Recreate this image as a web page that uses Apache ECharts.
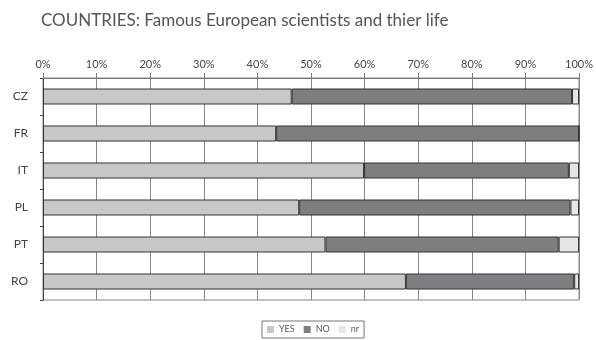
<!DOCTYPE html>
<html>
<head>
<meta charset="utf-8">
<script src="https://cdn.jsdelivr.net/npm/echarts@6/dist/echarts.min.js"></script>
<style>
  html, body { margin: 0; padding: 0; background: #fff; }
  #chart { width: 596px; height: 340px; }
</style>
</head>
<body>
<div id="chart"></div>
<script>
// Survey answers per country, in percent of respondents
const countries = ['CZ', 'FR', 'IT', 'PL', 'PT', 'RO'];
const yesValues = [46.4, 43.5, 59.9, 47.8, 52.7, 67.7];
const noValues  = [52.3, 56.5, 38.2, 50.6, 43.5, 31.4];
const nrValues  = [1.3, 0, 1.9, 1.6, 3.8, 0.9];
const seriesNames = ['YES', 'NO', 'nr'];
const seriesColors = ['#c8c8c8', '#7e7e80', '#e6e6e6'];

const FONT = 'Lato, "Open Sans", sans-serif';

const chart = echarts.init(document.getElementById('chart'), null, { renderer: 'canvas' });

function barSeries(name, values, color) {
  return {
    name: name,
    type: 'bar',
    stack: 'total',
    barWidth: 16,
    data: values,
    itemStyle: { color: color, borderColor: '#333', borderWidth: 1 },
    emphasis: { disabled: true }
  };
}

chart.setOption({
  animation: false,
  backgroundColor: '#fff',
  title: {
    text: 'COUNTRIES: Famous European scientists and thier life',
    left: 36,
    top: 7,
    textStyle: { fontFamily: FONT, fontSize: 17, fontWeight: 'normal', color: '#555' }
  },
  legend: {
    data: seriesNames,
    left: 262,
    bottom: 2,
    itemWidth: 7,
    itemHeight: 7,
    itemGap: 9,
    padding: [4, 5],
    borderColor: '#777',
    borderWidth: 1,
    icon: 'rect',
    itemStyle: { borderWidth: 0 },
    textStyle: { fontFamily: FONT, fontSize: 9, color: '#555' }
  },
  grid: {
    left: 43,
    right: 14,
    top: 78,
    bottom: 40,
    show: true,
    borderColor: '#888',
    borderWidth: 1,
    backgroundColor: 'transparent'
  },
  xAxis: {
    type: 'value',
    position: 'top',
    min: 0,
    max: 100,
    interval: 10,
    axisLine: { show: true, lineStyle: { color: '#777' } },
    axisTick: { show: true, length: 5, lineStyle: { color: '#777' } },
    axisLabel: {
      formatter: '{value}%',
      margin: 8,
      fontFamily: FONT,
      fontSize: 11,
      color: '#444'
    },
    splitLine: { show: true, lineStyle: { color: '#888', width: 1 } }
  },
  yAxis: {
    type: 'category',
    data: countries,
    inverse: true,
    axisLine: { show: true, lineStyle: { color: '#444' } },
    axisTick: { show: true, length: 3, lineStyle: { color: '#444' } },
    axisLabel: { margin: 15, fontFamily: FONT, fontSize: 12, color: '#444' },
    splitLine: { show: false }
  },
  series: [
    barSeries(seriesNames[0], yesValues, seriesColors[0]),
    barSeries(seriesNames[1], noValues, seriesColors[1]),
    barSeries(seriesNames[2], nrValues, seriesColors[2])
  ]
});
</script>
</body>
</html>
